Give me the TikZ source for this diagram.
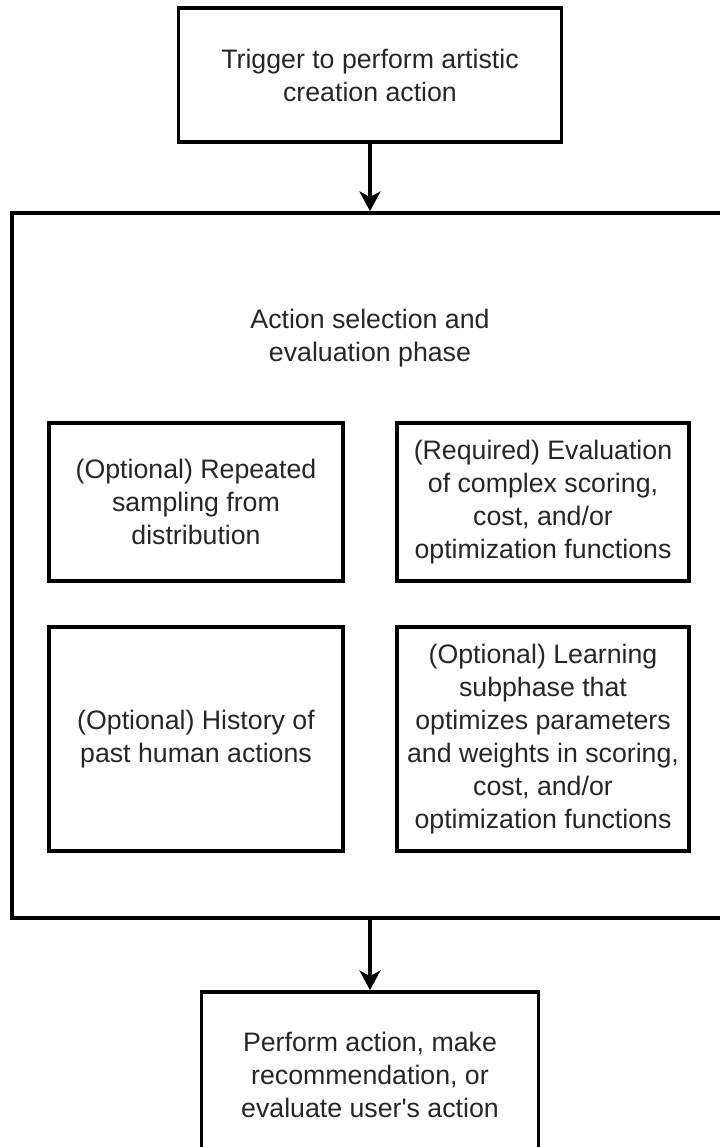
\documentclass[tikz,border=0pt]{standalone}
\usepackage{fontspec}
\setmainfont{Liberation Sans}
\usepackage{tikz}
\usetikzlibrary{positioning,calc,arrows.meta}

\begin{document}
\begin{tikzpicture}[
    x=0.025cm, y=-0.025cm,
    box/.style={rectangle, draw, line width=2.6pt, align=center, inner sep=0pt,
                font=\fontsize{19}{23.5}\selectfont, text=black!85},
    label/.style={align=center, font=\fontsize{19}{23.5}\selectfont, text=black!85},
    arrow/.style={-{Stealth[length=14pt,width=15pt,inset=4pt]}, line width=2.2pt}
]
    \useasboundingbox (0,0) rectangle (719,1147);

    \node[box, minimum width=9.575cm, minimum height=3.35cm] (trigger) at (370, 75)
        {Trigger to perform artistic\\creation action};

    \node[box, minimum width=17.9cm, minimum height=17.625cm] (phase) at (370, 565.5) {};
    \node[label] (title) at (370, 338) {Action selection and\\evaluation phase};

    \node[box, minimum width=7.35cm, minimum height=3.95cm] (sampling) at (196, 502)
        {(Optional) Repeated\\sampling from\\distribution};
    \node[box, minimum width=7.3cm, minimum height=3.95cm] (scoring) at (543, 502)
        {(Required) Evaluation\\of complex scoring,\\cost, and/or\\optimization functions};
    \node[box, minimum width=7.35cm, minimum height=5.6cm] (history) at (196, 739)
        {(Optional) History of\\past human actions};
    \node[box, minimum width=7.3cm, minimum height=5.6cm] (learning) at (543, 739)
        {(Optional) Learning\\subphase that\\optimizes parameters\\and weights in scoring,\\cost, and/or\\optimization functions};

    \node[box, minimum width=8.425cm, minimum height=4.15cm] (perform) at (370, 1075)
        {Perform action, make\\recommendation, or\\evaluate user\textquotesingle s action};

    \draw[arrow] (trigger) -- (phase); \draw[arrow] (phase) -- (perform);
\end{tikzpicture}
\end{document}
